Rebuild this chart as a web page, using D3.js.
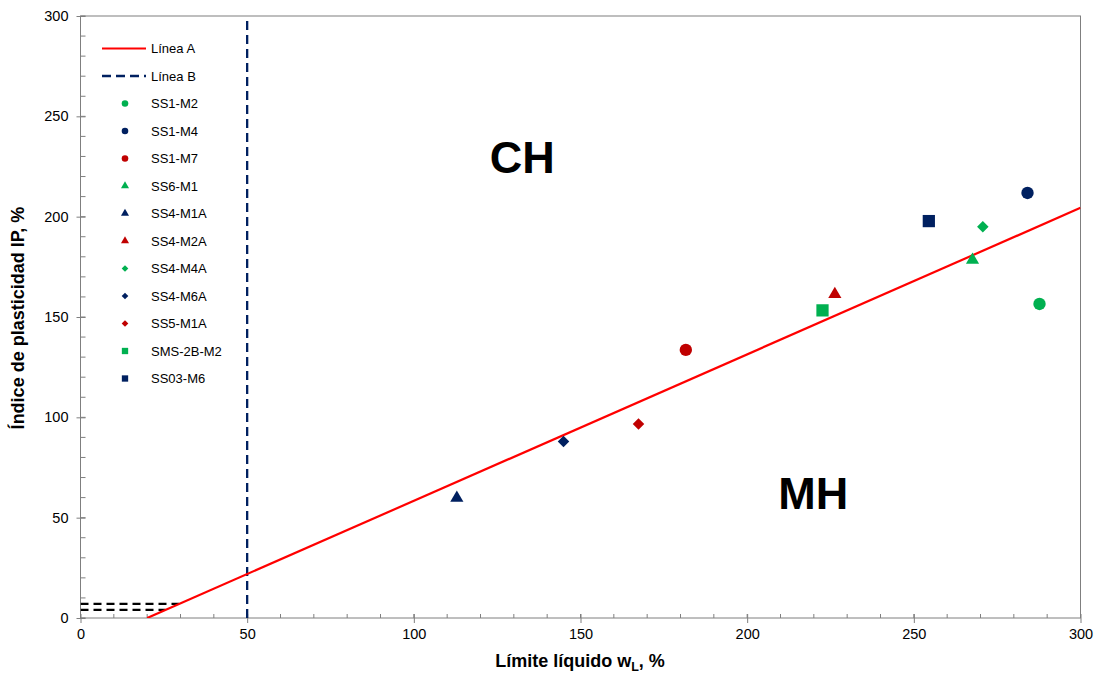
<!DOCTYPE html>
<html>
<head>
<meta charset="utf-8">
<script src="https://cdn.jsdelivr.net/npm/d3@7"></script>
<style>
  html, body { margin: 0; padding: 0; background: #fff; }
  svg { display: block; font-family: "Liberation Sans", Arial, sans-serif; }
</style>
</head>
<body>
<svg id="chart" width="1099" height="675"></svg>
<script>
// Samples: liquid limit (wL, %) and plasticity index (IP, %)
const sampleNames = ["SS1-M2", "SS1-M4", "SS1-M7", "SS6-M1", "SS4-M1A", "SS4-M2A",
                     "SS4-M4A", "SS4-M6A", "SS5-M1A", "SMS-2B-M2", "SS03-M6"];
const liquidLimit = [287.7, 284.1, 181.6, 267.6, 112.9, 226.3, 270.7, 144.9, 167.4, 222.6, 254.5];
const plasticityIndex = [156.5, 211.8, 133.6, 178.4, 59.8, 161.3, 195.0, 87.9, 96.7, 153.3, 197.8];
const sampleShapes = ["circle", "circle", "circle", "triangle", "triangle", "triangle",
                      "diamond", "diamond", "diamond", "square", "square"];
const sampleColors = ["#00B050", "#002060", "#C00000", "#00B050", "#002060", "#C00000",
                      "#00B050", "#002060", "#C00000", "#00B050", "#002060"];

// Reference lines
const lineA_LL = [20, 300];          // A-line: IP = 0.73 (wL - 20)
const lineA_IP = [0, 204.4];
const lineB_LL = [50, 50];           // B-line: wL = 50
const lineB_IP = [0, 300];
const lowBand_IP = [4, 7];           // CL-ML band limits

const xTicks = [0, 50, 100, 150, 200, 250, 300];
const yTicks = [0, 50, 100, 150, 200, 250, 300];
const minorStep = 10;

const svg = d3.select("#chart");
const m = { left: 80.5, right: 1080.5, top: 16, bottom: 618 };

const x = d3.scaleLinear().domain([0, 300]).range([m.left, m.right]);
const y = d3.scaleLinear().domain([0, 300]).range([m.bottom, m.top]);

const axisColor = "#7f7f7f";

// Frame
svg.append("rect")
  .attr("x", m.left).attr("y", m.top)
  .attr("width", m.right - m.left).attr("height", m.bottom - m.top)
  .attr("fill", "none").attr("stroke", axisColor).attr("stroke-width", 1);

// Minor ticks (inside)
const minorVals = d3.range(0, 301, minorStep);
svg.append("g").selectAll("line").data(minorVals).join("line")
  .attr("x1", d => x(d)).attr("x2", d => x(d))
  .attr("y1", m.bottom).attr("y2", m.bottom - 4)
  .attr("stroke", axisColor);
svg.append("g").selectAll("line").data(minorVals).join("line")
  .attr("y1", d => y(d)).attr("y2", d => y(d))
  .attr("x1", m.left).attr("x2", m.left + 5)
  .attr("stroke", axisColor);

// Major axes (ticks crossing the axis line)
const xAxis = d3.axisBottom(x).tickValues(xTicks).tickSize(5).tickPadding(6).tickFormat(d3.format("d"));
const gx = svg.append("g").attr("transform", `translate(0,${m.bottom})`).call(xAxis);
gx.select(".domain").remove();
gx.selectAll(".tick line").attr("y1", -4).attr("stroke", axisColor);
gx.selectAll(".tick text").attr("font-size", 14.5).attr("fill", "#000")
  .attr("font-family", "'Liberation Sans', Arial, sans-serif");

const yAxis = d3.axisLeft(y).tickValues(yTicks).tickSize(4).tickPadding(8).tickFormat(d3.format("d"));
const gy = svg.append("g").attr("transform", `translate(${m.left},0)`).call(yAxis);
gy.select(".domain").remove();
gy.selectAll(".tick line").attr("x1", 5).attr("stroke", axisColor);
gy.selectAll(".tick text").attr("font-size", 14.5).attr("fill", "#000")
  .attr("font-family", "'Liberation Sans', Arial, sans-serif");

// Clip for lines
svg.append("clipPath").attr("id", "plot-clip").append("rect")
  .attr("x", m.left).attr("y", m.top)
  .attr("width", m.right - m.left).attr("height", m.bottom - m.top);

const line = d3.line().x(d => x(d[0])).y(d => y(d[1]));
const plot = svg.append("g").attr("clip-path", "url(#plot-clip)");

// CL-ML band lines, ending on the A-line
lowBand_IP.forEach(ip => {
  const llEnd = lineA_LL[0] + ip / 0.73;
  plot.append("path")
    .attr("d", line([[0, ip], [llEnd, ip]]))
    .attr("fill", "none").attr("stroke", "#000")
    .attr("stroke-width", 2.3).attr("stroke-dasharray", "8,5");
});

// B-line
plot.append("path")
  .attr("d", line(lineB_LL.map((v, i) => [v, lineB_IP[i]])))
  .attr("fill", "none").attr("stroke", "#002060")
  .attr("stroke-width", 2.3).attr("stroke-dasharray", "9,5");

// A-line
plot.append("path")
  .attr("d", line(lineA_LL.map((v, i) => [v, lineA_IP[i]])))
  .attr("fill", "none").attr("stroke", "#FF0000").attr("stroke-width", 2.2);

// Marker symbols (diamond = square turned 45°)
const symbolType = {
  circle: d3.symbolCircle,
  triangle: d3.symbolTriangle,
  diamond: d3.symbolSquare,
  square: d3.symbolSquare
};
const symbolSize = { circle: 120, triangle: 75, diamond: 66, square: 150 };
const legendSize = { circle: 34, triangle: 28, diamond: 22, square: 40 };
const rot = s => (s === "diamond" ? " rotate(45)" : "");

svg.append("g").selectAll("path").data(sampleNames).join("path")
  .attr("transform", (d, i) => `translate(${x(liquidLimit[i])},${y(plasticityIndex[i])})` + rot(sampleShapes[i]))
  .attr("d", (d, i) => d3.symbol(symbolType[sampleShapes[i]], symbolSize[sampleShapes[i]])())
  .attr("fill", (d, i) => sampleColors[i]);

// Region labels
svg.append("text").attr("x", x(132.5)).attr("y", y(221.8))
  .attr("text-anchor", "middle").attr("font-size", 45).attr("font-weight", "bold")
  .text("CH");
svg.append("text").attr("x", x(219.8)).attr("y", y(54.5))
  .attr("text-anchor", "middle").attr("font-size", 45).attr("font-weight", "bold")
  .text("MH");

// Legend
const legend = svg.append("g").attr("font-size", 13);
const legendY0 = 48.5, legendStep = 27.5;
const lg0 = legend.append("g").attr("transform", `translate(0,${legendY0})`);
lg0.append("line").attr("x1", 102).attr("x2", 146).attr("stroke", "#FF0000").attr("stroke-width", 2.2);
lg0.append("text").attr("x", 151).attr("dy", "0.35em").text("Línea A");
const lg1 = legend.append("g").attr("transform", `translate(0,${legendY0 + legendStep})`);
lg1.append("line").attr("x1", 102).attr("x2", 146).attr("stroke", "#002060")
  .attr("stroke-width", 2.3).attr("stroke-dasharray", "9,5");
lg1.append("text").attr("x", 151).attr("dy", "0.35em").text("Línea B");

sampleNames.forEach((name, i) => {
  const g = legend.append("g").attr("transform", `translate(0,${legendY0 + legendStep * (i + 2)})`);
  g.append("path")
    .attr("transform", `translate(125,0)` + rot(sampleShapes[i]))
    .attr("d", d3.symbol(symbolType[sampleShapes[i]], legendSize[sampleShapes[i]])())
    .attr("fill", sampleColors[i]);
  g.append("text").attr("x", 151).attr("dy", "0.35em").text(name);
});

// Axis titles
const xt = svg.append("text").attr("x", 580).attr("y", 667)
  .attr("text-anchor", "middle").attr("font-size", 18).attr("font-weight", "bold");
xt.append("tspan").text("Límite líquido w");
xt.append("tspan").attr("font-size", 12.5).attr("dy", 4).text("L");
xt.append("tspan").attr("dy", -4).text(", %");

svg.append("text")
  .attr("transform", "translate(24,318) rotate(-90)")
  .attr("text-anchor", "middle").attr("font-size", 18).attr("font-weight", "bold")
  .text("Índice de plasticidad IP, %");
</script>
</body>
</html>
